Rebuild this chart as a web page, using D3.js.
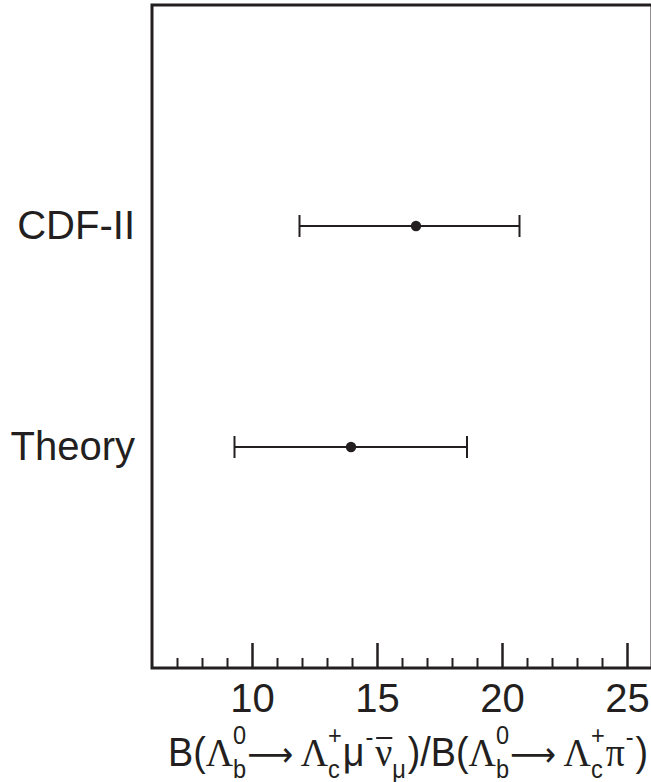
<!DOCTYPE html>
<html>
<head>
<meta charset="utf-8">
<script src="https://cdn.jsdelivr.net/npm/d3@7"></script>
<style>
  html, body { margin: 0; padding: 0; background: #fff; }
  svg { display: block; }
</style>
</head>
<body>
<svg id="chart" width="651" height="782"></svg>
<script>
// ---- data ----
const categories = ["Theory", "CDF-II"];
const centralValues = [13.96, 16.56];
const lowerValues = [9.3, 11.9];
const upperValues = [18.6, 20.7];
const majorTicks = [10, 15, 20, 25];
const minorTicks = [7, 8, 9, 11, 12, 13, 14, 16, 17, 18, 19, 21, 22, 23, 24];

const ink = "#231f20";
const sans = "'Liberation Sans', Arial, Helvetica, sans-serif";
const serif = "'Liberation Serif', 'Times New Roman', serif";

const svg = d3.select("#chart");
const x = d3.scaleLinear().domain([6, 26]).range([152, 652]);
const y = d3.scaleLinear().domain([0, categories.length + 1]).range([668, 5]);

// frame
svg.append("rect")
  .attr("x", x(6)).attr("y", y(categories.length + 1))
  .attr("width", x(26) - x(6)).attr("height", y(0) - y(categories.length + 1))
  .attr("fill", "none").attr("stroke", ink).attr("stroke-width", 3);

// minor ticks
const minorAxis = d3.axisBottom(x).tickValues(minorTicks).tickSizeInner(-10).tickSizeOuter(0).tickFormat("");
const gMinor = svg.append("g").attr("transform", `translate(0,${y(0)})`).call(minorAxis);
gMinor.select(".domain").remove();
gMinor.selectAll("line").attr("stroke", ink).attr("stroke-width", 2);

// major ticks
const majorAxis = d3.axisBottom(x).tickValues(majorTicks).tickSizeInner(-25).tickSizeOuter(0).tickPadding(16).tickFormat(d3.format("d"));
const gMajor = svg.append("g").attr("transform", `translate(0,${y(0)})`).call(majorAxis);
gMajor.select(".domain").remove();
gMajor.selectAll("line").attr("stroke", ink).attr("stroke-width", 2.5);
gMajor.selectAll("text").attr("font-family", sans).attr("font-size", 40).attr("fill", ink);

// category labels
svg.selectAll("text.cat").data(categories).join("text")
  .attr("class", "cat")
  .attr("x", 135).attr("y", (d, i) => y(i + 1)).attr("dy", "0.32em")
  .attr("text-anchor", "end")
  .attr("font-family", sans).attr("font-size", 40).attr("fill", ink)
  .text(d => d);

// error bars
const capH = 11;
const bars = svg.append("g");
categories.forEach((c, i) => {
  const yy = y(i + 1);
  bars.append("line").attr("x1", x(lowerValues[i])).attr("x2", x(upperValues[i]))
    .attr("y1", yy).attr("y2", yy).attr("stroke", ink).attr("stroke-width", 2);
  [lowerValues[i], upperValues[i]].forEach(v => {
    bars.append("line").attr("x1", x(v)).attr("x2", x(v))
      .attr("y1", yy - capH).attr("y2", yy + capH).attr("stroke", ink).attr("stroke-width", 2);
  });
  bars.append("circle").attr("cx", x(centralValues[i])).attr("cy", yy).attr("r", 5.2).attr("fill", ink);
});

// axis title: one text element made of positioned tspans
const titleG = svg.append("g");
const title = titleG.append("text").attr("fill", ink);
const base = 766;
const big = 40, small = 25;
const supDy = -22, subDy = 12;
let cx = 0;
function put(txt, opt = {}) {
  const t = title.append("tspan")
    .attr("x", cx).attr("y", base + (opt.dy || 0))
    .attr("font-family", opt.font || (opt.serif ? serif : sans))
    .attr("font-size", opt.size || big).text(txt);
  const w = t.node().getComputedTextLength();
  if (!opt.noAdvance) cx += w + (opt.after || 0);
  return w;
}
function stack(sup, sub) {
  const start = cx;
  const w1 = put(sup, { size: small, dy: supDy, noAdvance: true });
  const w2 = put(sub, { size: small, dy: subDy, noAdvance: true });
  cx = start + Math.max(w1, w2) + 1;
}
const arrowFont = "'DejaVu Sans', sans-serif";
put("B(");
put("Λ", { serif: true });
stack("0", "b");
put("⟶", { font: arrowFont, size: 34, after: 8 });
put("Λ", { serif: true });
stack("+", "c");
put("μ", { after: 1 });
put("-", { size: small, dy: -20, after: 2 });
const nuStart = cx;
const nuW = put("ν", { serif: true });
titleG.append("line").attr("x1", nuStart + 1).attr("x2", nuStart + nuW)
  .attr("y1", base - 28).attr("y2", base - 28).attr("stroke", ink).attr("stroke-width", 2);
put("μ", { size: small, dy: subDy, after: 2 });
put(")/B(");
put("Λ", { serif: true });
stack("0", "b");
put("⟶", { font: arrowFont, size: 34, after: 8 });
put("Λ", { serif: true });
stack("+", "c");
put("π", { serif: true, after: 1 });
put("-", { size: small, dy: -20, after: 2 });
put(")");
const totalW = cx;
const sx = (648 - 168) / totalW;
titleG.attr("transform", `translate(168,0) scale(${sx},1)`);
</script>
</body>
</html>
